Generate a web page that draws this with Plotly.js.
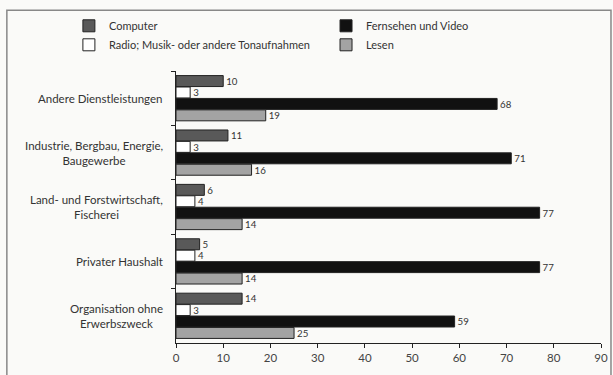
<!DOCTYPE html>
<html><head><meta charset="utf-8">
<script src="https://cdn.plot.ly/plotly-3.0.1.min.js"></script>
<style>html,body{margin:0;padding:0;background:#fafaf8;}#chart{width:613px;height:375px;}</style>
</head><body><div id="chart"></div>
<script>
const categories = ["Andere Dienstleistungen", "Industrie, Bergbau, Energie,<br>Baugewerbe", "Land- und Forstwirtschaft,<br>Fischerei", "Privater Haushalt", "Organisation ohne<br>Erwerbszweck"];
const seriesNames = ["Computer", "Radio; Musik- oder andere Tonaufnahmen", "Fernsehen und Video", "Lesen"];
const computer = [10, 11, 6, 5, 14];
const radio = [3, 3, 4, 4, 3];
const fernsehen = [68, 71, 77, 77, 59];
const lesen = [19, 16, 14, 14, 25];
const xTicks = [0, 10, 20, 30, 40, 50, 60, 70, 80, 90];

const values = [computer, radio, fernsehen, lesen];
const fills = ["#595959", "#ffffff", "#111111", "#a3a3a3"];
const legendIds = ["legend", "legend", "legend2", "legend2"];
const font = "Lato, 'Open Sans', sans-serif";

const traces = values.map((v, i) => ({
  type: "bar", orientation: "h", name: seriesNames[i],
  x: v, y: categories,
  marker: {color: fills[i], line: {color: "#222", width: 1}},
  text: v.map(String), textposition: "outside", cliponaxis: false,
  textfont: {family: font, size: 11.5, color: "#333"},
  legend: legendIds[i], hoverinfo: "x+name"
}));

const annotations = categories.map(c => ({
  xref: "paper", yref: "y", x: -0.025, y: c, xanchor: "right", yanchor: "middle",
  text: c, align: "center", showarrow: false,
  font: {family: font, size: 11.5, color: "#333"}
}));

const layout = {
  width: 613, height: 375,
  margin: {l: 176, r: 12, t: 70, b: 32},
  paper_bgcolor: "#fafaf8", plot_bgcolor: "#fafaf8",
  barmode: "group", bargap: 0.16, bargroupgap: 0.04,
  font: {family: font, size: 11, color: "#333"},
  xaxis: {range: [0, 90], tickvals: xTicks, showgrid: false, zeroline: false,
          showline: true, linecolor: "#222", linewidth: 1.2, ticks: "outside", ticklen: 4,
          tickcolor: "#222", tickfont: {family: font, size: 11.5, color: "#444"}},
  yaxis: {autorange: "reversed", showticklabels: false, showgrid: false,
          showline: true, linecolor: "#222", linewidth: 1.2, ticks: "outside", ticklen: 4,
          tickcolor: "#222", tickson: "boundaries"},
  legend: {x: -0.252, xanchor: "left", y: 1.215, yanchor: "top", orientation: "v",
           bgcolor: "rgba(0,0,0,0)", font: {family: font, size: 11, color: "#333"},
           tracegroupgap: 0, itemwidth: 30},
  legend2: {x: 0.353, xanchor: "left", y: 1.215, yanchor: "top", orientation: "v",
           bgcolor: "rgba(0,0,0,0)", font: {family: font, size: 11, color: "#333"},
           tracegroupgap: 0, itemwidth: 30},
  shapes: [{type: "path", xref: "paper", yref: "paper",
            path: "M -0.398 -0.15 L -0.398 1.223 L 1.0235 1.223 L 1.0235 -0.15",
            line: {color: "#888", width: 1.5}}],
  annotations: annotations,
  showlegend: true
};

Plotly.newPlot("chart", traces, layout, {displayModeBar: false, staticPlot: true});
</script></body></html>
